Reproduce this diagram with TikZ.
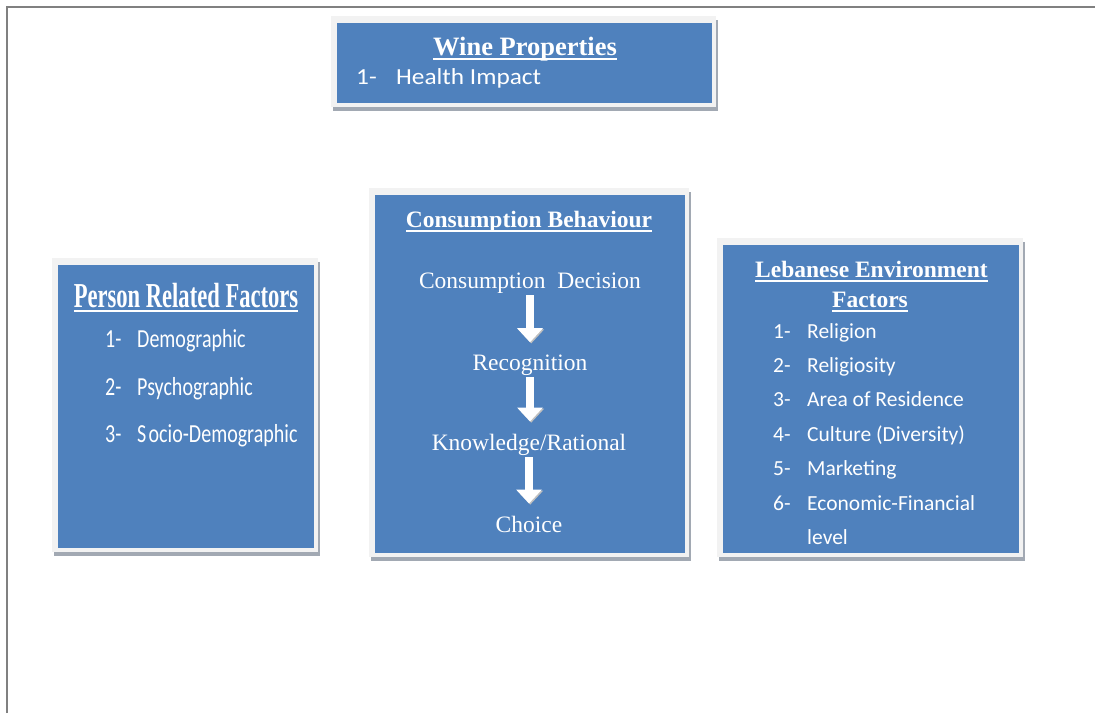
\documentclass[tikz,border=0pt]{standalone}
\usepackage{fontspec}
\usepackage{graphicx}
\setmainfont{Liberation Serif}
\newfontfamily\calib{Carlito}
\usetikzlibrary{arrows.meta,backgrounds}
\definecolor{boxblue}{HTML}{4F81BD}
\definecolor{framegray}{HTML}{F2F2F2}
\definecolor{shadowgray}{HTML}{A2A9B3}
\definecolor{rulegray}{HTML}{808080}
\newcommand\ulbox[1]{\setbox0=\hbox{#1}\rlap{\rule[-5pt]{\wd0}{1.8pt}}\box0}
\begin{document}
\begin{tikzpicture}[x=1pt,y=-1pt,
  bluebox/.style={fill=boxblue, draw=none, inner sep=0pt},
  txt/.style={text=white, inner sep=0pt, anchor=base},
  lst/.style={text=white, inner sep=0pt, anchor=base west},
  ctitle/.style={txt, font=\fontsize{23.5}{28}\selectfont\bfseries},
  citem/.style={txt, font=\fontsize{23.5}{28}\selectfont},
  lebitem/.style={lst, font=\calib\fontsize{21.5}{26}\selectfont},
  flowarrow/.style={draw=white, line width=8pt, -{Triangle[width=25pt,length=14pt]},
     shorten <=2pt, shorten >=12pt,
     preaction={draw=black!25, transform canvas={shift={(1.2pt,-1.2pt)}}}}
]
\useasboundingbox (0,0) rectangle (1095,713);
\draw[rulegray, line width=1.5pt] (7,713) -- (7,7) -- (1095,7);

% boxes
\node[bluebox, minimum width=375pt, minimum height=80pt] (wine) at (524.5,63) {};
\node[bluebox, minimum width=256pt, minimum height=283pt] (person) at (186,406.5) {};
\node[bluebox, minimum width=310pt, minimum height=358pt] (cons) at (530,374) {};
\node[bluebox, minimum width=296pt, minimum height=308pt] (leb) at (871,399) {};

\begin{scope}[on background layer]
  \foreach \b in {wine,person,cons,leb}{
    \fill[shadowgray] ([xshift=-4pt,yshift=3pt]\b.north west) rectangle ([xshift=6pt,yshift=-8pt]\b.south east);
    \fill[framegray] ([xshift=-6pt,yshift=7pt]\b.north west) rectangle ([xshift=4pt,yshift=-4pt]\b.south east);
  }
\end{scope}

% Wine properties
\node[txt, font=\fontsize{26.5}{30}\selectfont\bfseries] (winet) at (525,55) {\ulbox{Wine Properties}};
\node[lst, font=\calib\fontsize{23}{27}\selectfont] (winen1) at (356,84) {\scalebox{1.1}[1]{1-}};
\node[lst, font=\calib\fontsize{23}{27}\selectfont] (winei1) at (396,84) {\scalebox{1.1}[1]{Health Impact}};

% Person related factors
\node[txt, font=\fontsize{35}{40}\selectfont\bfseries] (pert) at (186,307) {\scalebox{0.645}[1]{\ulbox{Person Related Factors}}};
\node[lst, font=\calib\fontsize{26}{30}\selectfont] (pern1) at (105,347) {\scalebox{0.77}[1]{1-}};
\node[lst, font=\calib\fontsize{26}{30}\selectfont] (peri1) at (137,347) {\scalebox{0.77}[1]{Demographic}};
\node[lst, font=\calib\fontsize{26}{30}\selectfont] (pern2) at (105,395) {\scalebox{0.77}[1]{2-}};
\node[lst, font=\calib\fontsize{26}{30}\selectfont] (peri2) at (137,395) {\scalebox{0.77}[1]{Psychographic}};
\node[lst, font=\calib\fontsize{26}{30}\selectfont] (pern3) at (105,442) {\scalebox{0.77}[1]{3-}};
\node[lst, font=\calib\fontsize{26}{30}\selectfont] (peri3) at (137,442) {\scalebox{0.77}[1]{S\kern3pt ocio-Demographic}};

% Consumption behaviour
\node[ctitle] (const) at (529,227) {\ulbox{Consumption Behaviour}};
\node[citem] (cd) at (530,288) {Consumption\ \ Decision};
\node[citem] (rec) at (530,370) {Recognition};
\node[citem] (kno) at (529,450) {Knowledge/Rational};
\node[citem] (cho) at (529,532) {Choice};
\draw[flowarrow] (cd) -- (cd |- rec.north);
\draw[flowarrow] (rec) -- (rec |- kno.north);
\draw[flowarrow] (kno) -- (kno |- cho.north);

% Lebanese environment factors
\node[ctitle] (lebt1) at (871.5,277) {\ulbox{Lebanese Environment}};
\node[ctitle] (lebt2) at (870,307) {\ulbox{Factors}};
\node[lebitem] (lebn1) at (773,338) {1-};
\node[lebitem] (lebi1) at (807,338) {Religion};
\node[lebitem] (lebn2) at (773,372.4) {2-};
\node[lebitem] (lebi2) at (807,372.4) {Religiosity};
\node[lebitem] (lebn3) at (773,406.8) {3-};
\node[lebitem] (lebi3) at (807,406.8) {Area of Residence};
\node[lebitem] (lebn4) at (773,441.2) {4-};
\node[lebitem] (lebi4) at (807,441.2) {Culture (Diversity)};
\node[lebitem] (lebn5) at (773,475.6) {5-};
\node[lebitem] (lebi5) at (807,475.6) {Marketing};
\node[lebitem] (lebn6) at (773,510) {6-};
\node[lebitem] (lebi6) at (807,510) {Economic-Financial};
\node[lebitem] (lebi7) at (807,544.4) {level};
\end{tikzpicture}
\end{document}
